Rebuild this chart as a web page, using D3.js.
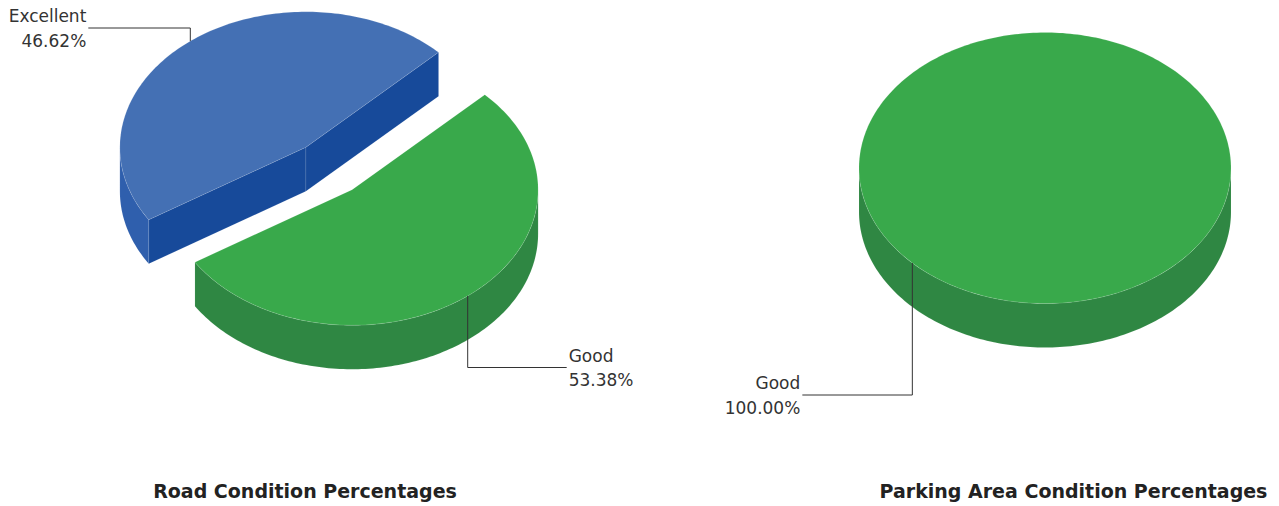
<!DOCTYPE html>
<html>
<head>
<meta charset="utf-8">
<script src="https://cdnjs.cloudflare.com/ajax/libs/d3/7.8.5/d3.min.js"></script>
<style>
  html, body { margin: 0; padding: 0; background: #ffffff; }
  svg { display: block; }
</style>
</head>
<body>
<svg id="chart" width="1279" height="506"></svg>
<script>
// ---------- data ----------
const roadCategories = ["Good", "Excellent"];
const roadValues = [53.38, 46.62];
const roadLabels = ["53.38%", "46.62%"];

const parkingCategories = ["Good"];
const parkingValues = [100];
const parkingLabels = ["100.00%"];

const chartTitles = ["Road Condition Percentages", "Parking Area Condition Percentages"];

// ---------- styles / layout ----------
const colorTop = { "Good": "#39a94b", "Excellent": "#4470b4" };
const colorWall = { "Good": "#2f8743", "Excellent": "#2f5fad" };
const colorFace = { "Good": "#2e8040", "Excellent": "#174a9a" };

const RX = 186, RY = 135.5, DEPTH = 44;
const START = (45.5) * Math.PI / 180;   // d3.pie start angle (clockwise from 12 o'clock)
const PULL = 0.2;                        // explode distance (fraction of radius)

const svg = d3.select("#chart");

const pieGen = d3.pie().sort(null).value(d => d.value)
  .startAngle(START).endAngle(START + 2 * Math.PI);

function drawPie3D(cfg) {
  const data = cfg.categories.map((c, i) => ({ cat: c, value: cfg.values[i], label: cfg.labels[i] }));
  const arcs = pieGen(data);
  const g = svg.append("g");
  const multi = arcs.length > 1;

  arcs.forEach(a => {
    a.cat = a.data.cat;
    a.t1 = a.startAngle - Math.PI / 2;
    a.t2 = a.endAngle - Math.PI / 2;
    a.tm = (a.t1 + a.t2) / 2;
    const pull = multi ? PULL : 0;
    a.cx = cfg.cx + pull * RX * Math.cos(a.tm);
    a.cy = cfg.cy + pull * RY * Math.sin(a.tm);
  });

  const pt = (a, t, dz) => [a.cx + RX * Math.cos(t), a.cy + RY * Math.sin(t) + (dz || 0)];

  function arcPoints(a, t1, t2, dz) {
    const n = Math.max(2, Math.ceil(Math.abs(t2 - t1) / 0.02));
    return d3.range(n + 1).map(i => pt(a, t1 + (t2 - t1) * i / n, dz));
  }

  const order = arcs.slice().sort((p, q) => p.cy - q.cy);

  order.forEach(a => {
    const sg = g.append("g");
    const faces = [];
    if (multi && Math.cos(a.t1) < 0) faces.push(a.t1);
    if (multi && Math.cos(a.t2) > 0) faces.push(a.t2);
    faces.forEach(t => {
      const p = pt(a, t, 0);
      const poly = [[a.cx, a.cy], p, [p[0], p[1] + DEPTH], [a.cx, a.cy + DEPTH]];
      sg.append("path")
        .attr("d", "M" + poly.map(q => q.join(",")).join("L") + "Z")
        .attr("fill", colorFace[a.cat])
        .attr("stroke", "#ffffff").attr("stroke-opacity", 0.15).attr("stroke-width", 0.6);
    });
    for (let k = -2; k <= 2; k++) {
      const lo = Math.max(a.t1, k * 2 * Math.PI);
      const hi = Math.min(a.t2, k * 2 * Math.PI + Math.PI);
      if (hi > lo) {
        const top = arcPoints(a, lo, hi, 0);
        const bot = arcPoints(a, hi, lo, DEPTH);
        const all = top.concat(bot);
        sg.append("path")
          .attr("d", "M" + all.map(q => q.join(",")).join("L") + "Z")
          .attr("fill", colorWall[a.cat])
          .attr("stroke", "#ffffff").attr("stroke-opacity", 0.12).attr("stroke-width", 0.6);
      }
    }
    const topPts = arcPoints(a, a.t1, a.t2, 0);
    const d = multi
      ? "M" + a.cx + "," + a.cy + "L" + topPts.map(q => q.join(",")).join("L") + "Z"
      : "M" + topPts.map(q => q.join(",")).join("L") + "Z";
    sg.append("path")
      .attr("d", d)
      .attr("fill", colorTop[a.cat])
      .attr("stroke", "#ffffff").attr("stroke-opacity", 0.2).attr("stroke-width", 0.6);
  });

  arcs.forEach((a, i) => {
    const lab = cfg.labelLayout[i];
    const anchor = pt(a, a.tm, 0);
    const dir = lab.side === "left" ? -1 : 1;
    const endX = anchor[0] + dir * lab.len;
    g.append("path")
      .attr("d", `M${anchor[0]},${anchor[1]}V${lab.y}H${endX}`)
      .attr("fill", "none").attr("stroke", "#333333").attr("stroke-width", 1);
    const tx = endX + dir * 2;
    const anchorTxt = dir < 0 ? "end" : "start";
    g.append("text").attr("x", tx).attr("y", lab.y - 6)
      .attr("text-anchor", anchorTxt).attr("class", "lbl").text(a.data.cat);
    g.append("text").attr("x", tx).attr("y", lab.y + 18.5)
      .attr("text-anchor", anchorTxt).attr("class", "lbl").text(a.data.label);
  });

  svg.append("text").attr("x", cfg.titleX).attr("y", 498)
    .attr("text-anchor", "middle").attr("class", "ttl").text(cfg.title);
}

svg.append("style").text(`
  .lbl { font-family: 'DejaVu Sans', sans-serif; font-size: 17px; fill: #333333; }
  .ttl { font-family: 'DejaVu Sans', sans-serif; font-size: 19px; font-weight: bold; fill: #222222; }
`);

drawPie3D({
  categories: roadCategories, values: roadValues, labels: roadLabels,
  cx: 329, cy: 168.5, title: chartTitles[0], titleX: 305,
  labelLayout: [ { y: 367.5, side: "right", len: 99 }, { y: 28, side: "left", len: 102 } ]
});

drawPie3D({
  categories: parkingCategories, values: parkingValues, labels: parkingLabels,
  cx: 1045, cy: 168, title: chartTitles[1], titleX: 1073.5,
  labelLayout: [ { y: 395, side: "left", len: 110 } ]
});
</script>
</body>
</html>
